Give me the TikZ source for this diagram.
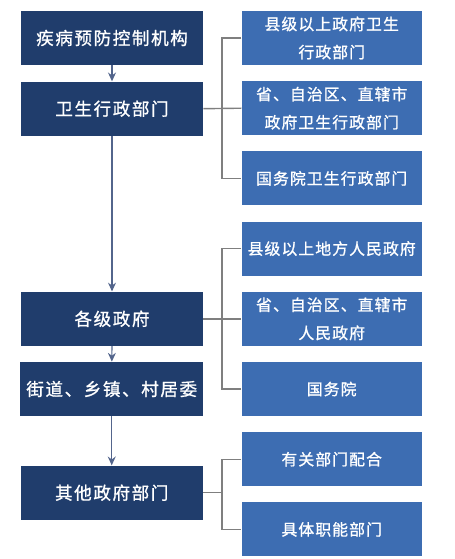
\documentclass[tikz,border=0pt]{standalone}
\usepackage{fontspec}
\newfontfamily\cjk{Noto Sans CJK SC}
\usepackage{tikz}
\usetikzlibrary{positioning,arrows.meta,calc}
\definecolor{navy}{HTML}{203D6C}
\definecolor{midblue}{HTML}{3D6DB2}
\definecolor{arrowc}{HTML}{53658C}
\definecolor{linec}{HTML}{7F7F7F}

\begin{document}
\begin{tikzpicture}[>=Stealth,node distance=0.31cm and 0.76cm]
\tikzstyle{L}=[fill=navy,text=white,minimum width=3.64cm,minimum height=1.08cm,inner ysep=1pt,align=center,font=\cjk\fontsize{10}{12}\selectfont\addfontfeatures{LetterSpace=9,FakeBold=1}]
\tikzstyle{R}=[fill=midblue,text=white,minimum width=3.6cm,minimum height=1.08cm,inner ysep=1pt,align=center,font=\cjk\fontsize{9}{16}\selectfont\addfontfeatures{LetterSpace=7,FakeBold=1}]
\tikzstyle{flow}=[->,arrowc,line width=0.7pt,>={Stealth[length=5pt,width=4.5pt]}]
\tikzstyle{link}=[linec,line width=0.8pt]
\useasboundingbox (0,0) rectangle (9.1,-11.18);
\node[L] (l1) at (2.24,-0.76) {疾病预防控制机构};
\node[L,below=0.32cm of l1] (l2) {卫生行政部门};
\node[R,right=of l1] (r1) {县级以上政府卫生\\行政部门};
\node[R,below=of r1] (r2) {省、自治区、直辖市\\政府卫生行政部门};
\node[R,below=of r2] (r3) {国务院卫生行政部门};
\node[R,below=of r3] (r4) {县级以上地方人民政府};
\node[R,below=of r4] (r5) {省、自治区、直辖市\\人民政府};
\node[R,below=of r5] (r6) {国务院};
\node[R,below=of r6] (r7) {有关部门配合};
\node[R,below=of r7] (r8) {具体职能部门};
\node[L,left=of r5] (l3) {各级政府};
\node[L,left=of r6] (l4) {街道、乡镇、村居委};
\node[L,below=0.98cm of l4] (l5) {其他政府部门};
\coordinate (j) at (4.44,0);
% vertical chain
\draw[flow] (l1)--(l2); \draw[flow] (l2)--(l3);
\draw[flow] (l3)--(l4); \draw[flow] (l4)--(l5);
% brackets
\draw[link] (l2.east)--(r2.west);
\draw[link] (r1.west)--(r1.west -| j)--(r3.west -| j)--(r3.west);
\draw[link] (l3.east)--(r5.west);
\draw[link] (r4.west)--(r4.west -| j)--(r6.west -| j)--(r6.west);
\draw[link] (l5.east)--(l5.east -| j);
\draw[link] (r7.west)--(r7.west -| j)--(r8.west -| j)--(r8.west);
\end{tikzpicture}
\end{document}
